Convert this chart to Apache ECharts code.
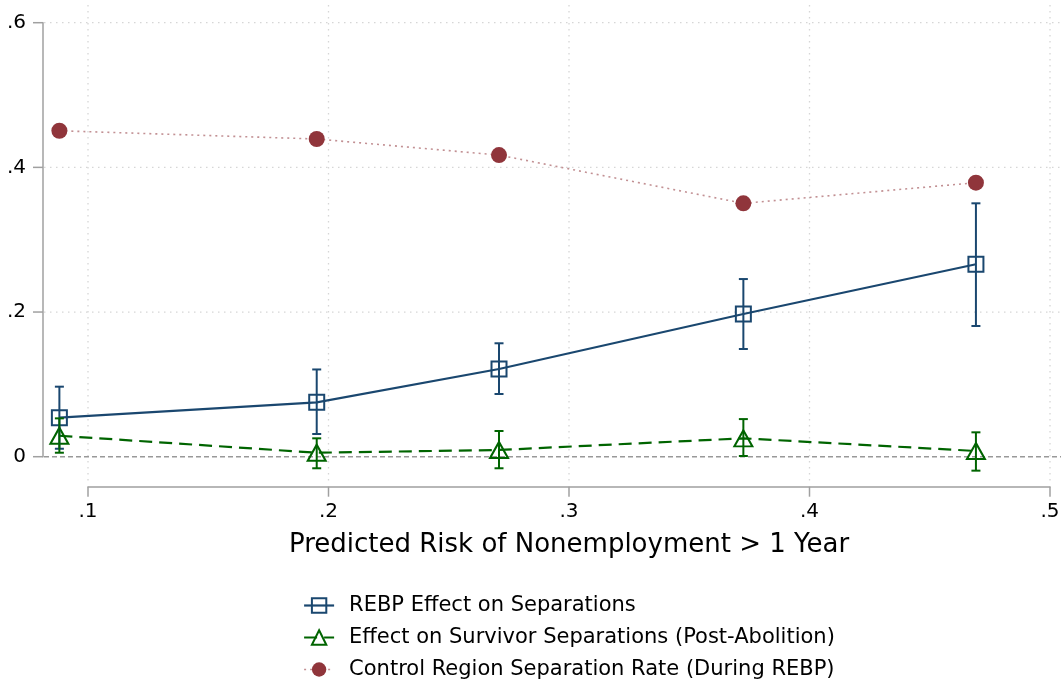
<!DOCTYPE html>
<html>
<head>
<meta charset="utf-8">
<script src="https://cdn.jsdelivr.net/npm/echarts@6/dist/echarts.min.js"></script>
<style>
html,body{margin:0;padding:0;background:#fff;}
#chart{width:1061px;height:681px;}
</style>
</head>
<body>
<div id="chart"></div>
<script>
// ---- data ----
const riskX = [0.0881, 0.1951, 0.2709, 0.3725, 0.4692];
const rebpEffect = [0.0539, 0.0752, 0.1212, 0.1973, 0.2660];
const rebpLow = [0.0110, 0.0314, 0.0867, 0.1489, 0.1807];
const rebpHigh = [0.0968, 0.1206, 0.1568, 0.2456, 0.3503];
const survivorEffect = [0.0290, 0.0055, 0.0093, 0.0254, 0.0079];
const survivorLow = [0.0055, -0.0160, -0.0160, 0.0010, -0.0193];
const survivorHigh = [0.0530, 0.0254, 0.0355, 0.0520, 0.0337];
const controlRate = [0.4506, 0.4392, 0.4170, 0.3503, 0.3788];
const xTicks = [0.1, 0.2, 0.3, 0.4, 0.5];
const yTicks = [0, 0.2, 0.4, 0.6];

const seriesNames = [
  'REBP Effect on Separations',
  'Effect on Survivor Separations (Post-Abolition)',
  'Control Region Separation Rate (During REBP)'
];
const axisTitle = 'Predicted Risk of Nonemployment > 1 Year';

const BLUE = '#1a476f', GREEN = '#006400', RED = '#90353b';
const AXIS = '#a0a0a0', GRID = '#d6d6d6';
const FONT = 'DejaVu Sans';

const blueLine = { color: BLUE, width: 2.2, type: 'solid', opacity: 1 };
const greenLine = { color: GREEN, width: 2.2, type: [13, 7], opacity: 1 };
const redLine = { color: 'rgba(144,53,59,0.55)', width: 1.6, type: [2, 4], opacity: 1 };

function pairs(xs, ys){ return xs.map((x,i)=>[x, ys[i]]); }
function errData(xs, lo, hi){ return xs.map((x,i)=>[x, lo[i], hi[i]]); }
function fmt(v){ if (Math.abs(v) < 1e-9) return '0'; return String(+v.toFixed(1)).replace(/^0/, ''); }

function errSeries(data, color){
  return {
    type: 'custom', clip: false, z: 4, silent: true,
    data: data,
    encode: { x: 0, y: [1, 2] },
    renderItem: function(params, api){
      const x = api.value(0);
      const lo = api.coord([x, api.value(1)]);
      const hi = api.coord([x, api.value(2)]);
      const hw = 4.5;
      const st = { stroke: color, lineWidth: 2 };
      return { type: 'group', children: [
        { type: 'line', shape: { x1: lo[0], y1: lo[1], x2: hi[0], y2: hi[1] }, style: st },
        { type: 'line', shape: { x1: lo[0]-hw, y1: lo[1], x2: lo[0]+hw, y2: lo[1] }, style: st },
        { type: 'line', shape: { x1: hi[0]-hw, y1: hi[1], x2: hi[0]+hw, y2: hi[1] }, style: st }
      ]};
    }
  };
}

function connectSeries(xs, ys, ls){
  const dash = Array.isArray(ls.type) ? ls.type : null;
  return {
    type: 'custom', clip: false, z: 2, silent: true,
    data: [[xs[0], ys[0]]],
    renderItem: function(params, api){
      const pts = xs.map((x,i)=>api.coord([x, ys[i]]));
      return { type: 'polyline', shape: { points: pts },
        style: { stroke: ls.color, lineWidth: ls.width, fill: null, lineDash: dash } };
    }
  };
}

const chart = echarts.init(document.getElementById('chart'), null, { renderer: 'canvas' });

const option = {
  backgroundColor: '#fff',
  animation: false,
  textStyle: { fontFamily: FONT },
  grid: { left: 88, right: 11, top: 22.7, bottom: 224.3, outerBoundsMode: 'none', containLabel: false },
  xAxis: {
    type: 'value', min: 0.1, max: 0.5, interval: 0.1,
    offset: 30,
    axisLine: { show: true, onZero: false, lineStyle: { color: AXIS, width: 1.5 } },
    axisTick: { show: false },
    axisLabel: { formatter: fmt, fontSize: 20, color: '#000', margin: 15, fontFamily: FONT },
    splitLine: { show: false },
    name: axisTitle, nameLocation: 'middle', nameGap: 46,
    nameTextStyle: { fontSize: 26, color: '#000', fontFamily: FONT }
  },
  yAxis: {
    type: 'value', min: 0, max: 0.6, interval: 0.2,
    offset: 45,
    axisLine: { show: true, onZero: false, lineStyle: { color: AXIS, width: 1.5 } },
    axisTick: { show: false },
    axisLabel: { formatter: fmt, fontSize: 20, color: '#000', margin: 17, fontFamily: FONT },
    splitLine: { show: false }
  },
  legend: {
    orient: 'vertical', left: 303, top: 595, padding: 0, height: 86,
    itemWidth: 30, itemHeight: 18, itemGap: 11,
    data: [
      { name: seriesNames[0], lineStyle: blueLine },
      { name: seriesNames[1], lineStyle: greenLine },
      { name: seriesNames[2], lineStyle: redLine }
    ],
    textStyle: { fontSize: 21, color: '#000', fontFamily: FONT, lineHeight: 20, padding: [0,0,0,10] }
  },
  series: [
    // vertical grid lines + x ticks (x axis line sits 30px below the plot)
    {
      type: 'custom', clip: false, z: 1, silent: true,
      data: xTicks.map(v=>[v, 0]),
      renderItem: function(params, api){
        const p = api.coord([api.value(0), 0]);
        return { type: 'group', children: [
          { type: 'line', shape: { x1: p[0], y1: 5, x2: p[0], y2: 481 },
            style: { stroke: GRID, lineWidth: 1.3, lineDash: [1.5, 4.5] } },
          { type: 'rect', shape: { x: p[0] - 0.75, y: p[1] + 30, width: 1.5, height: 10 },
            style: { fill: AXIS } }
        ]};
      }
    },
    // horizontal grid lines (not at zero) + y ticks
    {
      type: 'custom', clip: false, z: 1, silent: true,
      data: yTicks.map(v=>[0.1, v]),
      renderItem: function(params, api){
        const v = api.value(1);
        const p = api.coord([0.1, v]);
        const children = [
          { type: 'rect', shape: { x: 33, y: p[1] - 0.75, width: 10, height: 1.5 },
            style: { fill: AXIS } }
        ];
        if (v > 0) {
          children.push({ type: 'line', shape: { x1: 44, y1: p[1], x2: 1061, y2: p[1] },
            style: { stroke: GRID, lineWidth: 1.3, lineDash: [1.5, 4.5] } });
        }
        return { type: 'group', children: children };
      }
    },
    // zero reference line
    {
      type: 'custom', clip: false, z: 1, silent: true,
      data: [[0.1, 0]],
      renderItem: function(params, api){
        const p = api.coord([0.1, api.value(1)]);
        return { type: 'line', shape: { x1: 44, y1: p[1], x2: 1061, y2: p[1] },
          style: { stroke: '#999', lineWidth: 1.5, lineDash: [5, 3] } };
      }
    },
    connectSeries(riskX, rebpEffect, blueLine),
    connectSeries(riskX, survivorEffect, greenLine),
    connectSeries(riskX, controlRate, redLine),
    errSeries(errData(riskX, rebpLow, rebpHigh), BLUE),
    errSeries(errData(riskX, survivorLow, survivorHigh), GREEN),
    {
      name: seriesNames[0], type: 'line', clip: false, z: 3,
      data: pairs(riskX, rebpEffect),
      symbol: 'rect', symbolSize: 15,
      lineStyle: { color: BLUE, width: 2, opacity: 0 },
      itemStyle: { color: 'rgba(255,255,255,0)', borderColor: BLUE, borderWidth: 2 }
    },
    {
      name: seriesNames[1], type: 'line', clip: false, z: 3,
      data: pairs(riskX, survivorEffect),
      symbol: 'triangle', symbolSize: [18, 16],
      lineStyle: { color: GREEN, width: 2, opacity: 0 },
      itemStyle: { color: 'rgba(255,255,255,0)', borderColor: GREEN, borderWidth: 2 }
    },
    {
      name: seriesNames[2], type: 'line', clip: false, z: 3,
      data: pairs(riskX, controlRate),
      symbol: 'circle', symbolSize: 16,
      lineStyle: { color: RED, width: 1.6, opacity: 0 },
      itemStyle: { color: RED, borderWidth: 0 }
    }
  ]
};
chart.setOption(option);
</script>
</body>
</html>
